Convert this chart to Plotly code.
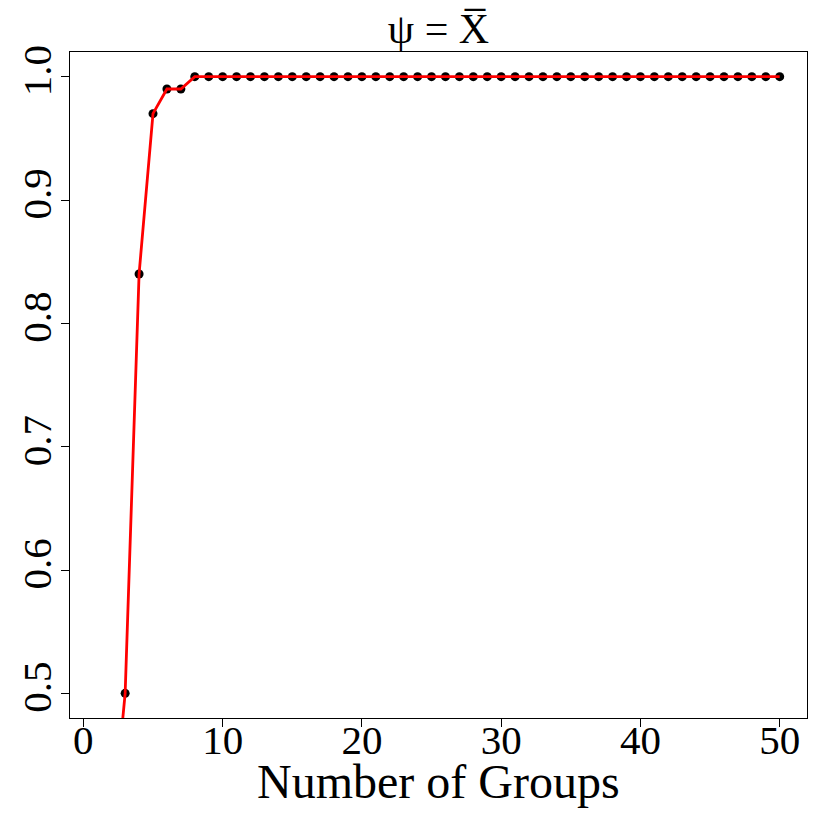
import plotly.graph_objects as go

# observed points (number of groups vs value)
n_groups = list(range(3, 51))
point_vals = [0.50, 0.84, 0.97, 0.99, 0.99] + [1.0] * 43

# red curve, starts one step earlier and is clipped by the axis
curve_x = list(range(2, 51))
curve_vals = [0.38, 0.50, 0.84, 0.97, 0.99, 0.99] + [1.0] * 43

x_ticks = [0, 10, 20, 30, 40, 50]
y_ticks = [0.5, 0.6, 0.7, 0.8, 0.9, 1.0]

FONT = "Liberation Serif, Times New Roman, serif"

fig = go.Figure()

fig.add_trace(go.Scatter(
    x=n_groups, y=point_vals,
    mode='markers',
    marker=dict(color='black', size=9),
    showlegend=False
))

fig.add_trace(go.Scatter(
    x=curve_x, y=curve_vals,
    mode='lines',
    line=dict(color='#FF0000', width=2.8),
    showlegend=False
))

# page body adds an 8px offset, margins compensate for it
fig.update_layout(
    width=830, height=830,
    paper_bgcolor='white',
    plot_bgcolor='white',
    font=dict(family=FONT, color='black', size=41),
    margin=dict(l=62, r=31, t=44, b=120, autoexpand=False),
    title=dict(text="\u03c8 = X\u0305", xref='paper', x=0.5, xanchor='center',
               yref='container', y=0.976, yanchor='middle',
               font=dict(size=42)),
)

fig.add_annotation(
    text="Number of Groups", xref='paper', yref='paper',
    x=0.5, y=-0.095, xanchor='center', yanchor='middle',
    showarrow=False, font=dict(size=48)
)

fig.update_xaxes(
    range=[-0.96, 51.96],
    tickvals=x_ticks,
    ticks='outside', ticklen=8, tickwidth=1.2, tickcolor='black',
    showline=True, mirror=True, linecolor='black', linewidth=1.2,
    showgrid=False, zeroline=False, automargin=False,
    tickfont=dict(size=41), ticklabelstandoff=-22,
)

fig.update_yaxes(
    range=[0.48, 1.02],
    tickvals=y_ticks,
    ticktext=[f"{v:.1f}" for v in y_ticks],
    tickangle=-90,
    ticks='outside', ticklen=8, tickwidth=1.2, tickcolor='black',
    showline=True, mirror=True, linecolor='black', linewidth=1.2,
    showgrid=False, zeroline=False, automargin=False,
    tickfont=dict(size=41), ticklabelstandoff=-6,
)

fig.write_html("out.html")
